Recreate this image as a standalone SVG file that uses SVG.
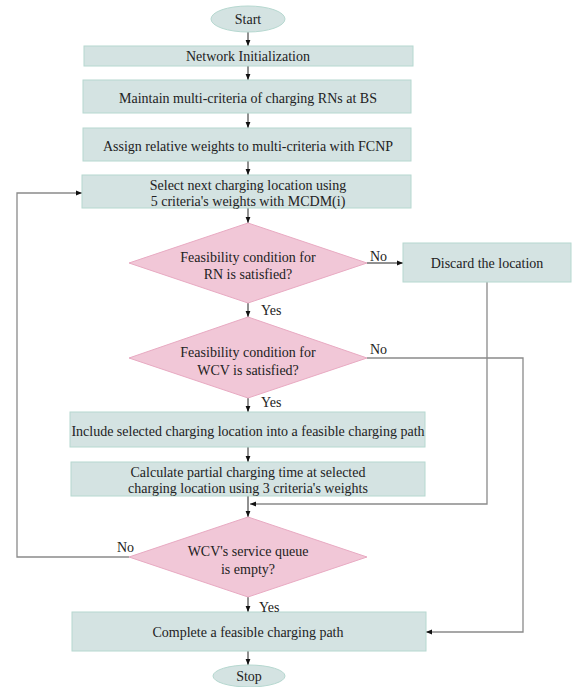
<svg xmlns="http://www.w3.org/2000/svg" width="573" height="687" viewBox="0 0 573 687" font-family="'Liberation Serif', 'DejaVu Serif', serif">
<style>
text{font-family:"Liberation Serif","DejaVu Serif",serif;font-size:14px;fill:#222;text-anchor:middle}
.lbl{text-anchor:start}
.box{fill:#d4e3e2;stroke:#b6d8d0;stroke-width:1}
.dia{fill:#f1c7d7;stroke:#e8aac2;stroke-width:1}
.ell{fill:#d4e3e2;stroke:#b6d8d0;stroke-width:1}
.ar{stroke:#222;stroke-width:1;fill:none;marker-end:url(#ah)}
.rta{stroke:#8a8a8a;stroke-width:1.3;fill:none;marker-end:url(#ah)}
</style>
<defs>
<marker id="ah" viewBox="0 0 10 10" refX="10" refY="5" markerWidth="6" markerHeight="6" markerUnits="userSpaceOnUse" orient="auto">
<path d="M0,1 L10,5 L0,9 z" fill="#111"/>
</marker>
</defs>
<g id="connectors">
<line class="ar" x1="248" y1="32" x2="248" y2="46"/>
<line class="ar" x1="248" y1="66" x2="248" y2="80"/>
<line class="ar" x1="248" y1="113" x2="248" y2="128"/>
<line class="ar" x1="248" y1="161" x2="248" y2="175"/>
<line class="ar" x1="248" y1="208" x2="248" y2="223"/>
<line class="ar" x1="367" y1="263" x2="403" y2="263"/>
<line class="ar" x1="248" y1="303" x2="248" y2="317"/>
<line class="ar" x1="248" y1="398" x2="248" y2="412"/>
<line class="ar" x1="248" y1="447" x2="248" y2="462"/>
<line class="ar" x1="248" y1="496" x2="248" y2="517"/>
<polyline class="rta" points="487,282 487,504 250,504"/>
<polyline class="rta" points="367,358 523,358 523,632 426,632"/>
<polyline class="rta" points="129,557 17,557 17,193 82,193"/>
<line class="ar" x1="248" y1="597" x2="248" y2="612"/>
<line class="ar" x1="248" y1="651" x2="248" y2="665"/>
</g>
<g id="start"><ellipse class="ell" cx="248" cy="19" rx="37" ry="13"/><text x="248" y="24">Start</text></g>
<g id="init"><rect class="box" x="84" y="46" width="329" height="20"/><text x="248" y="61">Network Initialization</text></g>
<g id="maintain"><rect class="box" x="83" y="80" width="328" height="33"/><text x="248" y="103">Maintain multi-criteria of charging RNs at BS</text></g>
<g id="assign"><rect class="box" x="83" y="128" width="328" height="33"/><text x="248" y="151">Assign relative weights to multi-criteria with FCNP</text></g>
<g id="select"><rect class="box" x="82" y="175" width="329" height="33"/><text x="248" y="190">Select next charging location using</text><text x="248" y="206">5 criteria's weights with MCDM(i)</text></g>
<g id="cond-rn"><polygon class="dia" points="248,223 367,263 248,303 129,263"/><text x="248" y="262">Feasibility condition for</text><text x="248" y="279">RN is satisfied?</text></g>
<g id="discard"><rect class="box" x="403" y="243" width="168" height="39"/><text x="487" y="268">Discard the location</text></g>
<g id="cond-wcv"><polygon class="dia" points="248,317 367,358 248,398 129,358"/><text x="248" y="357">Feasibility condition for</text><text x="248" y="375">WCV is satisfied?</text></g>
<g id="include"><rect class="box" x="70" y="412" width="355" height="35"/><text x="248" y="436">Include selected charging location into a feasible charging path</text></g>
<g id="calculate"><rect class="box" x="71" y="462" width="354" height="34"/><text x="248" y="477">Calculate partial charging time at selected</text><text x="248" y="493">charging location using 3 criteria's weights</text></g>
<g id="queue"><polygon class="dia" points="248,517 367,557 248,597 129,557"/><text x="248" y="556">WCV's service queue</text><text x="248" y="574">is empty?</text></g>
<g id="complete"><rect class="box" x="72" y="612" width="354" height="39"/><text x="248" y="637">Complete a feasible charging path</text></g>
<g id="stop"><ellipse class="ell" cx="249" cy="676" rx="36" ry="11"/><text x="249" y="681">Stop</text></g>
<g id="labels">
<text class="lbl" x="370" y="261">No</text>
<text class="lbl" x="261" y="315">Yes</text>
<text class="lbl" x="370" y="354">No</text>
<text class="lbl" x="261" y="407">Yes</text>
<text class="lbl" x="117" y="552">No</text>
<text class="lbl" x="259" y="612">Yes</text>
</g>
</svg>
